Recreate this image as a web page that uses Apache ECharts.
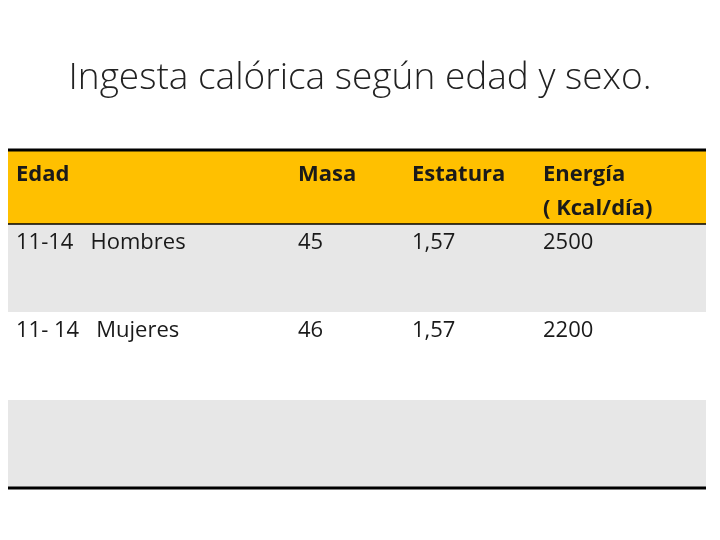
<!DOCTYPE html>
<html>
<head>
<meta charset="utf-8">
<script src="https://cdn.jsdelivr.net/npm/echarts@6/dist/echarts.min.js"></script>
<style>html,body{margin:0;padding:0;background:#fff}#main{width:720px;height:540px}</style>
</head>
<body>
<div id="main"></div>
<script>
const chart = echarts.init(document.getElementById('main'))

const title = 'Ingesta calórica según edad y sexo.'
const headers = ['Edad', 'Masa', 'Estatura', 'Energía\n( Kcal/día)']
const rowEdad = ['11-14   Hombres', '11- 14   Mujeres', '']
const rowMasa = ['45', '46', '']
const rowEstatura = ['1,57', '1,57', '']
const rowEnergia = ['2500', '2200', '']

const colX = [16, 298, 412, 543]
const left = 8, right = 706
const headTop = 150, headH = 74, rowH = 88
const rowFill = ['#E7E7E7', '#FFFFFF', '#E7E7E7']
const font = '"Open Sans", "Liberation Sans", sans-serif'

const elements = []
// header background
elements.push({ type: 'rect', shape: { x: left, y: headTop, width: right - left, height: headH }, style: { fill: '#FFC000' } })
headers.forEach((h, i) => {
  elements.push({ type: 'text', x: colX[i], y: 158, style: { text: h, font: 'bold 22px ' + font, fill: '#1a1a1a', lineHeight: 34 } })
})
const cols = [rowEdad, rowMasa, rowEstatura, rowEnergia]
rowFill.forEach((f, r) => {
  const y = headTop + headH + r * rowH
  elements.push({ type: 'rect', shape: { x: left, y: y, width: right - left, height: rowH }, style: { fill: f } })
  cols.forEach((c, i) => {
    elements.push({ type: 'text', x: colX[i], y: y + 8, style: { text: c[r], font: '22px ' + font, fill: '#1a1a1a' } })
  })
})
const bottom = headTop + headH + rowFill.length * rowH
elements.push({ type: 'line', shape: { x1: left, y1: headTop, x2: right, y2: headTop }, style: { stroke: '#000', lineWidth: 3 } })
elements.push({ type: 'line', shape: { x1: left, y1: headTop + headH, x2: right, y2: headTop + headH }, style: { stroke: '#000', lineWidth: 1.5 } })
elements.push({ type: 'line', shape: { x1: left, y1: bottom, x2: right, y2: bottom }, style: { stroke: '#000', lineWidth: 3 } })

chart.setOption({
  title: {
    text: title, left: 'center', top: 55,
    textStyle: { fontFamily: font, fontWeight: 300, fontSize: 37, color: '#222' }
  },
  graphic: { elements: elements }
})
</script>
</body>
</html>
